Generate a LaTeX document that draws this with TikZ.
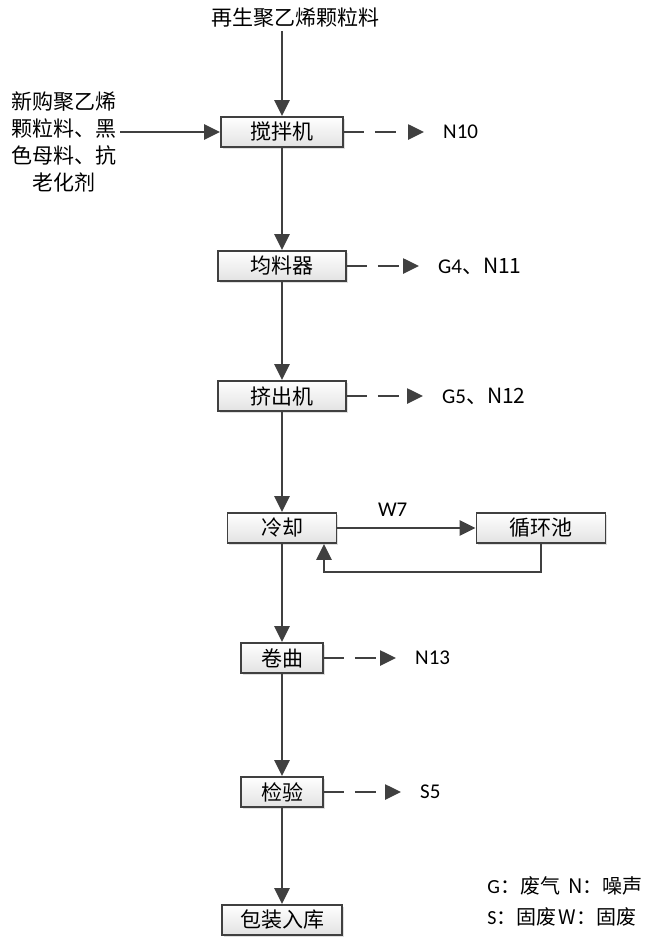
\documentclass[tikz,border=0pt]{standalone}
\usepackage{fontspec}
\setmainfont{Carlito}
\newfontfamily\cjk{Noto Sans CJK SC}
\definecolor{linegray}{RGB}{64,64,64}
\definecolor{boxgray}{RGB}{226,226,226}
\usetikzlibrary{arrows.meta,positioning,shadows}

\begin{document}
\begin{tikzpicture}[x=1pt,y=-1pt,>={Triangle[length=16pt,width=15pt]},font=\fontsize{21}{27}\selectfont]
  \tikzstyle{procbox}=[rectangle,draw=linegray,line width=1.8pt,top color=white,bottom color=boxgray,minimum height=30pt,inner sep=0pt,font=\cjk\fontsize{21}{24}\selectfont,drop shadow={opacity=0.25,shadow xshift=1.5pt,shadow yshift=-1.5pt}]
  \tikzstyle{flow}=[->,color=linegray,line width=2.6pt]
  \tikzstyle{emit}=[flow,dash pattern=on 20pt off 11pt on 21pt off 40pt,shorten >=17pt]

  \useasboundingbox (0,0) rectangle (648,940);

  % raw material
  \node[font=\cjk\fontsize{21}{24}\selectfont] (src) at (295,18) {再生聚乙烯颗粒料};
  \node[align=center,font=\cjk\fontsize{21}{27}\selectfont] (feed) at (64,142) {新购聚乙烯\\颗粒料、黑\\色母料、抗\\老化剂};

  % process line
  \node[procbox,minimum width=122pt] (mix) at (282,132) {搅拌机};
  \node[procbox,minimum width=128pt] (even) at (282,266) {均料器};
  \node[procbox,minimum width=128pt] (extr) at (282,396) {挤出机};
  \node[procbox,minimum width=109pt] (cool) at (282,528) {冷却};
  \node[procbox,minimum width=129pt] (pool) at (541,528) {循环池};
  \node[procbox,minimum width=82pt] (roll) at (282,658) {卷曲};
  \node[procbox,minimum width=82pt] (check) at (282,792) {检验};
  \node[procbox,minimum width=120pt] (pack) at (282,920) {包装入库};

  \draw[flow] (src.south -| mix) -- (mix);
  \draw[flow] (feed.east |- mix) -- (mix);
  \foreach \a/\b in {mix/even,even/extr,extr/cool,cool/roll,roll/check,check/pack}
    \draw[flow] (\a) -- (\b);

  % cooling water loop
  \draw[flow] (cool) -- node[pos=0.4,above=7pt,text=black]{W7} (pool);
  \draw[flow] (pool.south) -- ++(0,28) -| ([xshift=42pt]cool.south);

  % emissions
  \node[anchor=west,inner sep=2pt] (n10) at (441,132) {N10};
  \node[anchor=west,inner sep=2pt] (g4) at (436,266) {G4\cjk{、}N11};
  \node[anchor=west,inner sep=2pt] (g5) at (440,396) {G5\cjk{、}N12};
  \node[anchor=west,inner sep=2pt] (n13) at (413,658) {N13};
  \node[anchor=west,inner sep=2pt] (s5) at (418,792) {S5};
  \draw[emit] (mix) -- (n10);
  \draw[emit] (even) -- (g4);
  \draw[emit] (extr) -- (g5);
  \draw[emit] (roll) -- (n13);
  \draw[emit] (check) -- (s5);

  % legend
  \node[align=left,anchor=east,font=\fontsize{20}{31}\selectfont] (legend) at (646,901) {G\cjk{：废气}\hspace{8pt}N\cjk{：噪声}\\S\cjk{：固废}\hspace{2pt}W\cjk{：固废}};
\end{tikzpicture}
\end{document}
